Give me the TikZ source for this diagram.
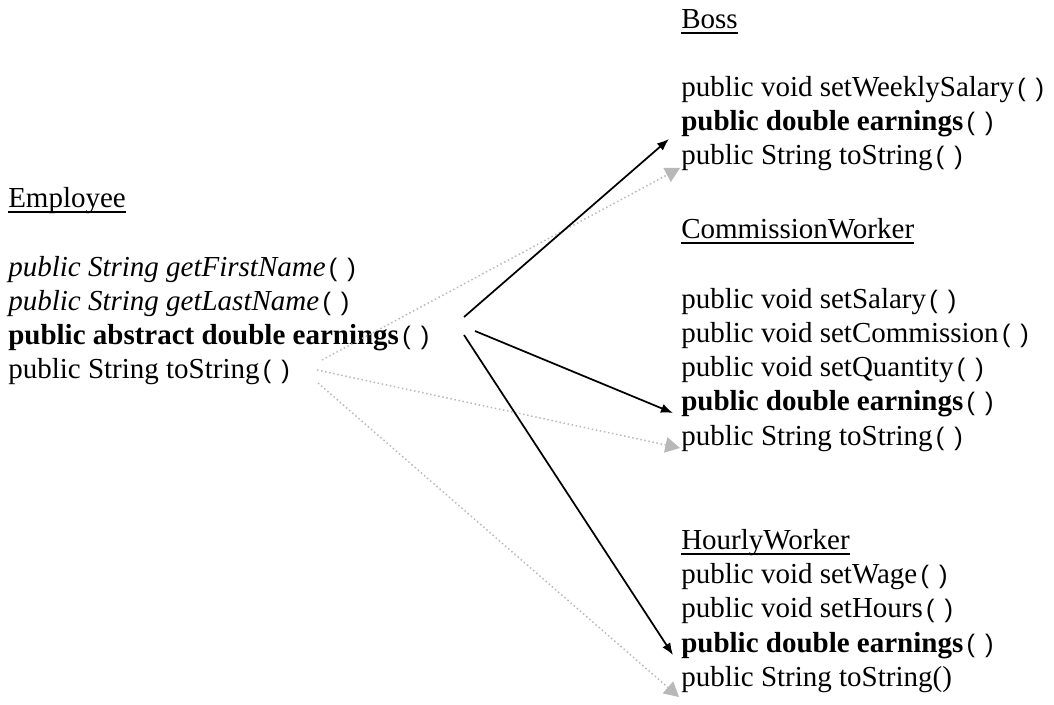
\documentclass[tikz,border=0pt]{standalone}
\usepackage{fontspec}
\setmainfont{Liberation Serif}
\newfontfamily\parenfont{Liberation Sans}
\usetikzlibrary{arrows.meta,calc}

% empty argument list, set in a thin sans face
\newcommand\emptyargs{\kern2.5pt{\parenfont\fontsize{19}{20}\selectfont(\kern7.5pt)}}

\tikzset{
  line/.style={anchor=base west, inner sep=0pt, font=\fontsize{21.75}{26}\selectfont},
  heading/.style={line},
  override/.style={draw=black, line width=1.3pt,
    -{Latex[length=9pt,width=7pt]}},
  inherit/.style={draw=black!28, line width=1.1pt, dotted,
    -{Triangle[length=11pt,width=12pt,fill=black!28,line width=0pt]}},
}

\begin{document}
\begin{tikzpicture}[x=0.75pt,y=-0.75pt]
\useasboundingbox (0,0) rectangle (1054,704);

% ---- superclass ----
\node[heading] (emp) at (8,207) {Employee};
\node[line] (e1) at (8,276) {\textit{public String getFirstName}\emptyargs};
\node[line] (e2) at (8,310) {\textit{public String getLastName}\emptyargs};
\node[line] (e3) at (8,344) {\textbf{public abstract double earnings}\emptyargs};
\node[line] (e4) at (8,378) {public String toString\emptyargs};

% ---- Boss ----
\node[heading] (boss) at (681,28) {Boss};
\node[line] (b1) at (681,96) {public void setWeeklySalary\emptyargs};
\node[line] (b2) at (681,130) {\textbf{public double earnings}\emptyargs};
\node[line] (b3) at (681,164) {public String toString\emptyargs};

% ---- CommissionWorker ----
\node[heading] (cw) at (681,238) {CommissionWorker};
\node[line] (c1) at (681,308) {public void setSalary\emptyargs};
\node[line] (c2) at (681,342) {public void setCommission\emptyargs};
\node[line] (c3) at (681,376) {public void setQuantity\emptyargs};
\node[line] (c4) at (681,410) {\textbf{public double earnings}\emptyargs};
\node[line] (c5) at (681,445) {public String toString\emptyargs};

% ---- HourlyWorker ----
\node[heading] (hw) at (681,549) {HourlyWorker};
\node[line] (h1) at (681,583) {public void setWage\emptyargs};
\node[line] (h2) at (681,617) {public void setHours\emptyargs};
\node[line] (h3) at (681,652) {\textbf{public double earnings}\emptyargs};
\node[line] (h4) at (681,686) {public String toString()};

% class-name underlines
\foreach \n in {emp,boss,cw,hw}
  \draw[line width=1.5pt] ($(\n.base west)+(0,5)$) -- ($(\n.base east)+(0,5)$);

% free ends of the connectors, beside the superclass methods
\coordinate (oA) at (464,317);
\coordinate (oB) at (475,331);
\coordinate (oC) at (464,335);
\coordinate (g1) at (322,360);
\coordinate (g2) at (317,370);
\coordinate (g3) at (318,383);

% inherited toString
\draw[inherit] (g1) -- ($(b3.base west)+(-1,4)$);
\draw[inherit] (g2) -- ($(c5.base west)+(-1,3)$);
\draw[inherit] (g3) -- ($(h4.base west)+(-2,11)$);

% overridden earnings
\draw[override] (oA) -- ($(b2.base west)+(-12,9)$);
\draw[override] (oB) -- ($(c4.base west)+(-8,3)$);
\draw[override] (oC) -- ($(h3.base west)+(-8,3)$);
\end{tikzpicture}
\end{document}
